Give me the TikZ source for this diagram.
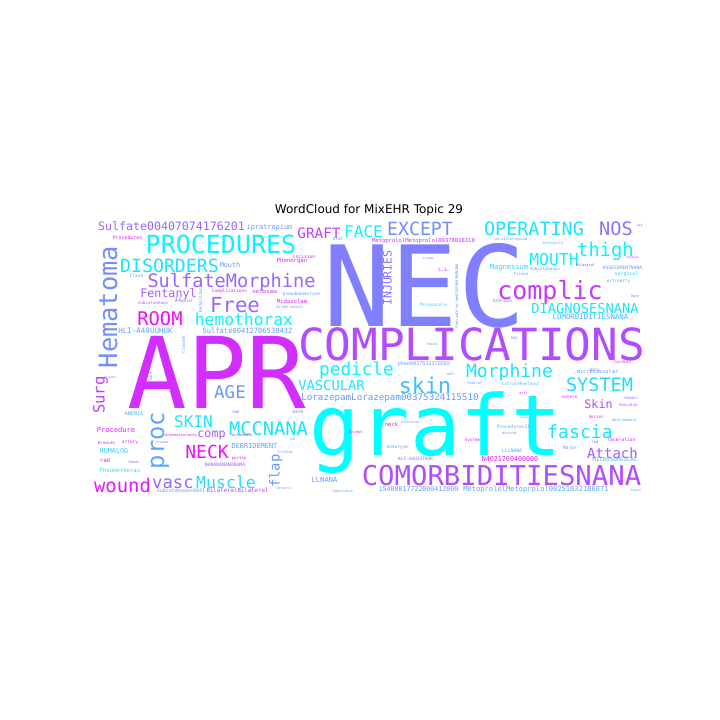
\documentclass[tikz,border=0pt]{standalone}
\usepackage{fontspec}
\setmainfont{DejaVu Sans Mono}
\newfontfamily\titlefont{DejaVu Sans}
\definecolor{coolA}{rgb}{0,1,1}
\definecolor{coolB}{rgb}{1,0,1}
\tikzset{
  wd/.style={inner sep=0pt, outer sep=0pt, anchor=base},
  fs/.style={font=\fontsize{#1pt}{#1pt}\selectfont},
  cc/.style={text=coolB!#1!coolA},
  vt/.style={rotate=90}
}
\begin{document}
\begin{tikzpicture}[x=1pt,y=-1pt]
\useasboundingbox[fill=white] (0,0) rectangle (720,720);
\node[inner sep=0pt, anchor=base, font=\titlefont\fontsize{12pt}{12pt}\selectfont] (title) at (369,213) {WordCloud for MixEHR Topic 29};
% large words
\node[wd,fs=112,cc=50] (nec) at (424.5,326) {NEC};
\node[wd,fs=99,cc=82] (apr) at (217,408) {APR};
\node[wd,fs=84,cc=0] (graft) at (435.5,455) {graft};
\node[wd,fs=44.3,cc=70] (complications) at (471.5,360) {COMPLICATIONS};
\node[wd,fs=27.3,cc=70] (comorb) at (501.5,485) {COMORBIDITIESNANA};
\node[wd,fs=25,cc=5] (procedures) at (221,253) {PROCEDURES};
\node[wd,fs=25.4,cc=45,vt] (hematoma) at (117,307) {Hematoma};
\node[wd,fs=25,cc=78] (complic) at (550,299) {complic};
\node[wd,fs=23.8,cc=35,vt] (proc) at (164,440.5) {proc};
\node[wd,fs=21.6,cc=25] (skin) at (425,393) {skin};
\node[wd,fs=20.7,cc=60] (free) at (235,312) {Free};
\node[wd,fs=18.9,cc=90] (wound) at (122.5,492) {wound};
\node[wd,fs=18.8,cc=5] (thigh) at (605.5,256) {thigh};
\node[wd,fs=18.7,cc=10] (mccnana) at (268.5,435) {MCCNANA};
\node[wd,fs=18.8,cc=95] (room) at (160,325) {ROOM};
\node[wd,fs=18.6,cc=60] (sulfmorph) at (231.5,287) {SulfateMorphine};
\node[wd,fs=18.6,cc=55] (nos) at (616,235) {NOS};
\node[wd,fs=18.5,cc=15] (system) at (599.5,391) {SYSTEM};
\node[wd,fs=18.4,cc=10] (operating) at (534,235) {OPERATING};
\node[wd,fs=18.2,cc=10] (disorders) at (169.5,272) {DISORDERS};
\node[wd,fs=18.2,cc=45] (except) at (420,235) {EXCEPT};
\node[wd,fs=18.2,cc=10] (fascia) at (580,438) {fascia};
\node[wd,fs=18,cc=95] (neck) at (207,458) {NECK};
\node[wd,fs=18,cc=10] (morphine) at (509.5,377) {Morphine};
\node[wd,fs=17.7,cc=5] (pedicle) at (356.5,375) {pedicle};
\node[wd,fs=17.5,cc=40] (age) at (230,398) {AGE};
\node[wd,fs=17.3,cc=60] (vasc) at (173,488) {vasc};
\node[wd,fs=16.5,cc=15] (muscle) at (226,488) {Muscle};
\node[wd,fs=16.4,cc=5] (mouth) at (554,265) {MOUTH};
\node[wd,fs=16.3,cc=5] (hemothorax) at (244,325) {hemothorax};
\node[wd,fs=16,cc=5] (face) at (363.5,237) {FACE};
\node[wd,fs=16,cc=10] (skinc) at (193.5,427) {SKIN};
\node[wd,fs=15.6,cc=75,vt] (surg) at (104.5,395) {Surg};
\node[wd,fs=14.3,cc=75] (graftc) at (319,238) {GRAFT};
\node[wd,fs=13.8,cc=10] (vascular) at (331.5,390) {VASCULAR};
\node[wd,fs=13.8,cc=40,vt] (flap) at (279.5,471) {flap};
\node[wd,fs=13.7,cc=10] (diagnoses) at (585,313) {DIAGNOSESNANA};
\node[wd,fs=14,cc=65] (attach) at (612.5,458) {Attach};
\node[wd,fs=11.7,cc=65] (fentanyl) at (168.5,297) {Fentanyl};
\node[wd,fs=11.7,cc=70] (skinm) at (598.5,408) {Skin};
\node[wd,fs=11.7,cc=65] (comp) at (211.5,437) {comp};
\node[wd,fs=11.6,cc=55,vt] (injuries) at (391.5,278) {INJURIES};
\node[wd,fs=11.6,cc=60] (sulf0040) at (171.5,230) {Sulfate00407074176201};
\node[wd,fs=9.2,cc=40] (lorazepam) at (390,400) {LorazepamLorazepam00375324115510};
% small words
\node[wd,fs=6.9,cc=40] (ipratropium) at (269.5,229) {ipratropium};
\node[wd,fs=4.9,cc=85] (procsmall) at (127.5,239) {Procedures};
\node[wd,fs=5.5,cc=85] (metoprolol) at (423.5,242) {MetoprololMetoprolol00378018310};
\node[wd,fs=4.5,cc=40] (oral) at (338,240) {Oral};
\node[wd,fs=6.8,cc=40] (mouths) at (230,267) {Mouth};
\node[wd,fs=4.7,cc=85] (incision) at (304,258) {incision};
\node[wd,fs=5.6,cc=85] (phenergan) at (292,262) {Phenergan};
\node[wd,fs=4.5,cc=40] (flash) at (136.5,277) {flash};
\node[wd,fs=4.2,cc=60] (subcut) at (153,304) {subcutaneous};
\node[wd,fs=5,cc=40] (iv) at (178.5,301) {IV};
\node[wd,fs=3.8,cc=60] (propofol) at (184,302) {Propofol};
\node[wd,fs=4.5,cc=85] (complsmall) at (229.5,292) {Complications};
\node[wd,fs=5.1,cc=85] (melanoma) at (265,293) {melanoma};
\node[wd,fs=4.4,cc=40] (pseudo) at (301.5,295) {pseudoaneurysm};
\node[wd,fs=5.6,cc=85] (midazolam) at (292,303) {Midazolam};
\node[wd,fs=3.5,cc=40] (solebil) at (290,308) {SoleBilateral};
\node[wd,fs=7.1,cc=40] (sulf0041) at (247.5,333) {Sulfate00412706530432};
\node[wd,fs=7.5,cc=35] (hlia) at (145.5,333) {HLI-A40UUHUK};
\node[wd,fs=4.5,cc=40,vt] (ketorolac) at (202,300) {Ketorolac};
\node[wd,fs=4.5,cc=40,vt] (closed) at (185,345) {closed};
\node[wd,fs=3.2,cc=40] (trauma1) at (110,378) {trauma};
\node[wd,fs=4,cc=40,vt] (tube) at (152,377) {tube};
\node[wd,fs=4,cc=60] (seb) at (236,413) {Seb};
\node[wd,fs=4.5,cc=60] (mesh) at (298,413) {mesh};
\node[wd,fs=5,cc=30] (anemia) at (134,415) {ANEMIA};
\node[wd,fs=7.1,cc=85] (procedure) at (116,432) {Procedure};
\node[wd,fs=3.8,cc=85] (pneumoth) at (181,436) {pneumothoraces};
\node[wd,fs=3.5,cc=85] (accidental) at (242.5,436) {Accidental};
\node[wd,fs=3.8,cc=85] (except2) at (356,433) {Except};
\node[wd,fs=4,cc=40] (cp) at (292.5,440) {cp};
\node[wd,fs=4.1,cc=75] (bromide) at (106.5,444) {Bromide};
\node[wd,fs=4.5,cc=85] (artery) at (130,443) {artery};
\node[wd,fs=3.2,cc=60] (trauma2) at (162,443) {trauma};
\node[wd,fs=6.9,cc=40] (debride) at (254.5,448) {DEBRIDEMENT};
\node[wd,fs=4,cc=40] (tissue) at (285,453) {tissue};
\node[wd,fs=6.8,cc=20] (humalog) at (114,453) {HUMALOG};
\node[wd,fs=5.8,cc=85] (rad) at (105,462) {rad};
\node[wd,fs=3.5,cc=60] (heads) at (134,463) {Heads};
\node[wd,fs=4,cc=85] (postop) at (239,459) {postop};
\node[wd,fs=4.8,cc=60] (nanana) at (225,466) {NANANANANANANA};
\node[wd,fs=5.6,cc=10] (pneumo) at (120,472) {Pneumothorax};
\node[wd,fs=7.1,cc=40] (llnana) at (324.5,482) {LLNANA};
\node[wd,fs=3.5,cc=30] (generic) at (284,489) {Generic};
\node[wd,fs=3.5,cc=30] (famotidine) at (342.5,492) {Famotidine};
\node[wd,fs=5.7,cc=75] (bilbil) at (237.5,492) {BilateralBilateral};
\node[wd,fs=5,cc=35] (subcut2) at (181,492) {Subcutaneous0041};
\node[wd,fs=5.1,cc=40] (pheo) at (424,365) {pheo0037532370265};
\node[wd,fs=3.5,cc=40] (wall) at (451,375) {wall};
\node[wd,fs=3.6,cc=40] (femoral) at (474.5,384) {femoral};
\node[wd,fs=4.25,cc=30] (citfent) at (521,385) {CitrateFentanyl};
\node[wd,fs=4.5,cc=55] (peri) at (595,371) {peri};
\node[wd,fs=4,cc=85] (cardiac) at (622.5,363) {Cardiac};
\node[wd,fs=5.3,cc=40] (microvasc) at (597.5,373) {microvascular};
\node[wd,fs=3.5,cc=85] (grft) at (523.5,394) {grft};
\node[wd,fs=4.3,cc=85] (severe) at (569.5,398) {severe};
\node[wd,fs=4,cc=60] (repair) at (631,399) {repair};
\node[wd,fs=4,cc=75] (vascularsm) at (628.5,406) {Vascular};
\node[wd,fs=4,cc=85] (unilat) at (596,418) {Unilat};
\node[wd,fs=3.8,cc=30] (debridement) at (624.5,421) {debridement};
\node[wd,fs=3,cc=40] (lower) at (524.5,418) {Lower};
\node[wd,fs=3.5,cc=40] (infection) at (410,423) {infection};
\node[wd,fs=5.6,cc=85] (necksm) at (391.5,426) {neck};
\node[wd,fs=4.6,cc=30] (proc21) at (513.5,428) {Procedures21};
\node[wd,fs=3.6,cc=40] (discont) at (509.5,434) {discont};
\node[wd,fs=4,cc=40] (leg) at (595,443) {leg};
\node[wd,fs=4.6,cc=85] (laceration) at (621.5,441) {laceration};
\node[wd,fs=4.3,cc=85] (systemsm) at (472.5,441) {System};
\node[wd,fs=4.8,cc=40] (major) at (570,449) {Major};
\node[wd,fs=4.4,cc=40] (aneurysm) at (397.5,448) {aneurysm};
\node[wd,fs=4.8,cc=30] (lllnana) at (512,452) {LLLNANA};
\node[wd,fs=4.5,cc=55] (hlia2) at (415.5,460) {HLI-A4U2UTHUK};
\node[wd,fs=6.7,cc=90] (n402) at (510,461) {N4021700400000};
\node[wd,fs=5.7,cc=30] (microsurg) at (615,461) {MICROSURGICAL};
\node[wd,fs=6.6,cc=40] (num154) at (418.5,491) {15400017722000412000};
\node[wd,fs=7.1,cc=35] (metoprolol2) at (536,491) {MetoprololMetoprolol00251032106871};
\node[wd,fs=3,cc=40] (powder) at (636,491) {Powder};
\node[wd,fs=3,cc=85] (wik) at (640,226) {wik};
\node[wd,fs=3.6,cc=40] (soluipra) at (511,240) {SoluIpratropium};
\node[wd,fs=3.8,cc=30] (cefazolin) at (553,244) {Cefazolin};
\node[wd,fs=7.1,cc=20] (magnesium) at (509,269) {Magnesium};
\node[wd,fs=4.2,cc=40] (subcut3) at (545,270) {Subcutaneous};
\node[wd,fs=4,cc=40] (tissue2) at (521,275) {Tissue};
\node[wd,fs=3.5,cc=85] (bilateral) at (585.5,266) {Bilateral};
\node[wd,fs=3,cc=85] (cardiac2) at (632.5,258) {cardiac};
\node[wd,fs=4.7,cc=40] (assess) at (622.5,269) {ASSESSMENTNANA};
\node[wd,fs=4.9,cc=20] (surgical) at (626.5,275) {surgical};
\node[wd,fs=4.3,cc=35] (extremity) at (618.5,282) {extremity};
\node[wd,fs=3.5,cc=40] (open) at (635,297) {Open};
\node[wd,fs=3,cc=50] (trauma3) at (428,259) {trauma};
\node[wd,fs=5,cc=85] (ll) at (444.5,271) {L.L.};
\node[wd,fs=3.8,cc=40,vt] (vlong) at (458,296) {SodiumChloride0338004904NANA};
\node[wd,fs=4.5,cc=10] (miconazole) at (433.5,306) {Miconazole};
\node[wd,fs=4.6,cc=40] (unknown) at (502.5,302) {Unknown};
\node[wd,fs=7.4,cc=30] (comorbsm) at (590.5,319) {COMORBIDITIESNANA};
\node[wd,fs=3.4,cc=40] (shock) at (432,345) {Shock};
\node[wd,fs=4,cc=40] (nal) at (515,339) {Nal};
\end{tikzpicture}
\end{document}
